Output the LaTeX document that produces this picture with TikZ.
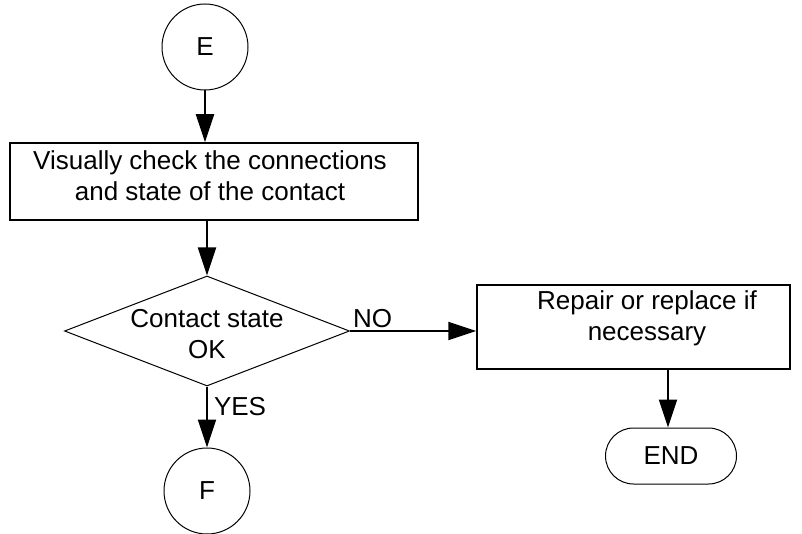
\documentclass[tikz,border=0pt]{standalone}
\usepackage{fontspec}
\setmainfont{Liberation Sans}
\usetikzlibrary{arrows.meta,shapes.geometric}

\begin{document}
\begin{tikzpicture}[x=1pt,y=-1pt,line width=1.2pt,>={Triangle[length=28pt,width=18pt]},
  txt/.style={font=\fontsize{26}{31}\selectfont,align=center},
  flow/.style={->,line width=2pt},
  connector/.style={draw,circle,minimum size=86pt,inner sep=0pt,line width=1pt,txt},
  stepbox/.style={draw,rectangle,inner sep=0pt,line width=1.5pt}]
  \useasboundingbox[fill=white] (0,0) rectangle (802,534);
  % bloques
  \node[connector] (E) at (205,47) {E};
  \node[stepbox,minimum width=408pt,minimum height=77pt] (check) at (214,181.5) {};
  \node[txt] (checktext) at (210,176) {Visually check the connections\\and state of the contact};
  \node[draw,diamond,minimum width=285pt,minimum height=110pt,inner sep=0pt,line width=1pt] (ok) at (207,331) {};
  \node[txt] (oktext) at (207,334) {Contact state\\OK};
  \node[stepbox,minimum width=313pt,minimum height=84pt] (repair) at (633.5,327) {};
  \node[txt] (repairtext) at (647,318) {Repair or replace if\\necessary};
  \node[draw,rounded corners=28pt,minimum width=131pt,minimum height=56pt,inner sep=0pt,line width=1pt,txt] (stop) at (671,456) {END};
  \node[connector] (F) at (207,491) {F};
  % flechas
  \draw[flow] (E.south) -- (E.south |- check.north);
  \draw[flow] (ok.north |- check.south) -- (ok.north);
  \draw[flow] (ok.east) -- (ok.east -| repair.west) node[pos=0,anchor=south west,inner sep=2pt,txt]{NO};
  \draw[flow] (ok.south) -- (F.north) node[pos=0.33,anchor=west,inner sep=6pt,txt]{YES};
  \draw[flow] (repair.south -| 668,0) -- (668,0 |- stop.north);
\end{tikzpicture}
\end{document}
